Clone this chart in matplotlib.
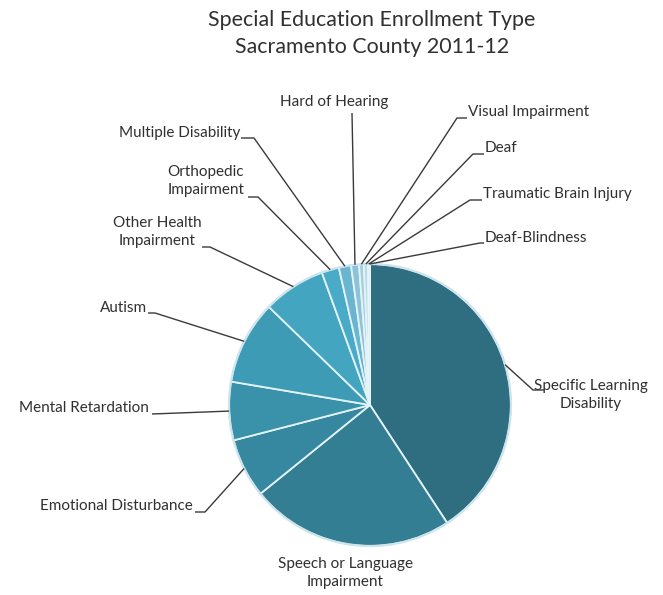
import numpy as np
import matplotlib.pyplot as plt
from matplotlib.patches import Circle

# enrollment share by type, percent, clockwise from 12 o'clock
categories = ['Specific Learning\nDisability', 'Speech or Language\nImpairment',
              'Emotional Disturbance', 'Mental Retardation', 'Autism',
              'Other Health\nImpairment', 'Orthopedic\nImpairment',
              'Multiple Disability', 'Hard of Hearing', 'Visual Impairment',
              'Deaf', 'Traumatic Brain Injury', 'Deaf-Blindness']
shares = [40.8, 23.4, 6.8, 6.7, 9.6, 7.2, 2.0, 1.4, 0.9, 0.55, 0.45, 0.2, 0.05]
colors = ['#2f6e80', '#337e93', '#3688a0', '#3991aa', '#3d9bb5', '#43a5c0',
          '#4aabc8', '#6ab5cf', '#8cc3d6', '#a5cfdf', '#b8d9e5', '#cfe5ed', '#e3eff4']

W, H = 663, 595
CX, CY, R = 370, 405, 141   # pie centre / radius in pixels (y down)
TXT = '#303030'
FONT = 'Lato'

# label text anchor (x, y, ha) and the leader-line elbow points, pixels y down
label_layout = [
    ((591, 395, 'center'), [(533, 390), (544, 390)]),
    ((345, 573, 'center'), None),
    ((193, 506, 'right'), [(205, 512), (195, 512)]),
    ((149, 408, 'right'), [(152, 414)]),
    ((147, 308, 'right'), [(155, 313), (148, 313)]),
    ((157, 232, 'center'), [(210, 247), (202, 247)]),
    ((206, 181, 'center'), [(258, 197), (248, 197)]),
    ((240, 133, 'right'), [(254, 138), (241, 138)]),
    ((334, 102, 'center'), [(352, 113)]),
    ((468, 112, 'left'), [(457, 118), (467, 118)]),
    ((485, 148, 'left'), [(473, 154), (484, 154)]),
    ((483, 194, 'left'), [(470, 200), (482, 200)]),
    ((485, 238, 'left'), [(480, 243), (484, 243)]),
]


def fy(y):
    return H - y


fig = plt.figure(figsize=(W / 100, H / 100), dpi=100)
ax = fig.add_axes([0, 0, 1, 1])

wedges, _ = ax.pie(shares, colors=colors, startangle=90, counterclock=False,
                   center=(CX, fy(CY)), radius=R,
                   wedgeprops=dict(edgecolor='#e4f3f8', linewidth=1.3))
ax.add_patch(Circle((CX, fy(CY)), R, fill=False, edgecolor='#cde4ec', lw=1.6, zorder=3))

for w, name, ((tx, ty, ha), elbow) in zip(wedges, categories, label_layout):
    ax.text(tx, fy(ty), name, ha=ha, va='center', fontsize=11, color=TXT,
            family=FONT, linespacing=1.45, multialignment='center')
    if elbow is None:
        continue
    mid = np.deg2rad((w.theta1 + w.theta2) / 2)
    xs = [CX + R * np.cos(mid)] + [p[0] for p in elbow]
    ys = [fy(CY) + R * np.sin(mid)] + [fy(p[1]) for p in elbow]
    ax.plot(xs, ys, color='#3a3a3a', lw=1.0, solid_capstyle='butt', zorder=4)

ax.text(372, fy(20), 'Special Education Enrollment Type', ha='center', va='center',
        fontsize=15.4, color=TXT, family=FONT)
ax.text(372, fy(47), 'Sacramento County 2011-12', ha='center', va='center',
        fontsize=15.4, color=TXT, family=FONT)

ax.set_xlim(0, W)
ax.set_ylim(0, H)
ax.set_aspect('equal')
ax.axis('off')

fig.savefig('out.png', dpi=100, facecolor='white')
